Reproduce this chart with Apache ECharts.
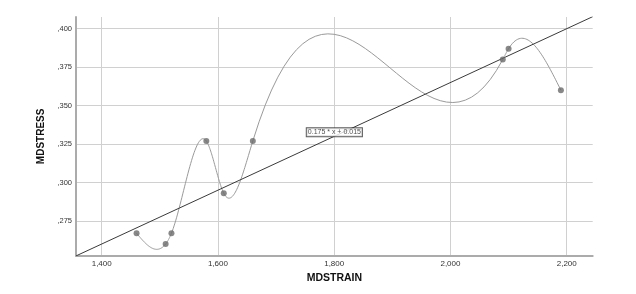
<!DOCTYPE html>
<html>
<head>
<meta charset="utf-8">
<script src="https://cdn.jsdelivr.net/npm/echarts@6/dist/echarts.min.js"></script>
<style>
html,body{margin:0;padding:0;background:#fff;}
#chart{width:636px;height:294px;}
</style>
</head>
<body>
<div id="chart"></div>
<script>
// ---- data ----
var strainValues = [1.46, 1.51, 1.52, 1.58, 1.61, 1.66, 2.09, 2.10, 2.19];
var stressValues = [0.267, 0.260, 0.267, 0.327, 0.293, 0.327, 0.380, 0.387, 0.360];
var fitSlope = 0.175;
var fitIntercept = 0.015;
var xRange = [1.3558, 2.2447];
var yRange = [0.2524, 0.4076];
var xStep = 0.2;
var yStep = 0.025;
var xTitle = 'MDSTRAIN';
var yTitle = 'MDSTRESS';

// ---- natural cubic spline coefficients from the data ----
function naturalSpline(xs, ys) {
  var n = xs.length, h = [], l = [1], mu = [0], z = [0], b = [], c = [], d = [];
  for (var i = 0; i < n - 1; i++) h[i] = xs[i + 1] - xs[i];
  for (i = 1; i < n - 1; i++) {
    var alpha = 3 / h[i] * (ys[i + 1] - ys[i]) - 3 / h[i - 1] * (ys[i] - ys[i - 1]);
    l[i] = 2 * (xs[i + 1] - xs[i - 1]) - h[i - 1] * mu[i - 1];
    mu[i] = h[i] / l[i];
    z[i] = (alpha - h[i - 1] * z[i - 1]) / l[i];
  }
  c[n - 1] = 0;
  for (var j = n - 2; j >= 0; j--) {
    c[j] = z[j] - mu[j] * c[j + 1];
    b[j] = (ys[j + 1] - ys[j]) / h[j] - h[j] * (c[j + 1] + 2 * c[j]) / 3;
    d[j] = (c[j + 1] - c[j]) / (3 * h[j]);
  }
  return {b: b, c: c, d: d};
}
var spl = naturalSpline(strainValues, stressValues);

var points = strainValues.map(function (x, i) { return [x, stressValues[i]]; });
var fitLine = xRange.map(function (x) { return [x, fitSlope * x + fitIntercept]; });
var midX = (xRange[0] + xRange[1]) / 2;
var fitLabel = [[midX, fitSlope * midX + fitIntercept]];

function fmt(v) {
  var s = v.toFixed(3);
  if (s.indexOf('0.') === 0) s = s.substring(1);
  return s.replace('.', ',');
}

var chart = echarts.init(document.getElementById('chart'), null, {renderer: 'canvas'});
var FONT = '"Liberation Sans", Arial, sans-serif';
chart.setOption({
  animation: false,
  backgroundColor: '#fff',
  grid: {left: 76, right: 43.3, top: 17, bottom: 38.3},
  xAxis: {
    type: 'value',
    min: xRange[0], max: xRange[1],
    minInterval: xStep, maxInterval: xStep,
    name: xTitle, nameLocation: 'middle', nameGap: 17,
    nameTextStyle: {fontFamily: FONT, fontWeight: 'bold', fontSize: 10.5, color: '#111'},
    axisLine: {show: true, lineStyle: {color: '#ababab', width: 2}},
    axisTick: {show: false},
    axisLabel: {fontFamily: FONT, fontSize: 8, color: '#333', margin: 4,
      showMinLabel: false, showMaxLabel: false, formatter: fmt},
    splitLine: {show: true, showMinLine: false, showMaxLine: false, lineStyle: {color: '#d0d0d0', width: 1}}
  },
  yAxis: {
    type: 'value',
    min: yRange[0], max: yRange[1],
    minInterval: yStep, maxInterval: yStep,
    name: yTitle, nameLocation: 'middle', nameGap: 26,
    nameTextStyle: {fontFamily: FONT, fontWeight: 'bold', fontSize: 10, color: '#111'},
    axisLine: {show: true, lineStyle: {color: '#ababab', width: 2}},
    axisTick: {show: false},
    axisLabel: {fontFamily: FONT, fontSize: 7.5, color: '#333', margin: 4,
      showMinLabel: false, showMaxLabel: false, formatter: fmt},
    splitLine: {show: true, showMinLine: false, showMaxLine: false, lineStyle: {color: '#d0d0d0', width: 1}}
  },
  series: [
    {
      type: 'custom',
      data: points,
      z: 2,
      renderItem: function (params, api) {
        var i = params.dataIndex;
        if (i >= strainValues.length - 1) return {type: 'group', children: []};
        var x0 = strainValues[i], x1 = strainValues[i + 1], y0 = stressValues[i];
        var pts = [];
        var N = 40;
        for (var k = 0; k <= N; k++) {
          var t = (x1 - x0) * k / N;
          var y = y0 + spl.b[i] * t + spl.c[i] * t * t + spl.d[i] * t * t * t;
          pts.push(api.coord([x0 + t, y]));
        }
        return {type: 'polyline', shape: {points: pts},
          style: {stroke: '#9a9a9a', lineWidth: 1, fill: null}};
      }
    },
    {
      type: 'line',
      data: fitLine,
      symbol: 'none',
      z: 3,
      lineStyle: {color: '#3a3a3a', width: 1}
    },
    {
      type: 'scatter',
      data: points,
      symbolSize: 6,
      z: 4,
      itemStyle: {color: '#6a6a6a'}
    },
    {
      type: 'scatter',
      data: fitLabel,
      symbolSize: 0,
      z: 5,
      label: {
        show: true, position: 'top', distance: 0,
        formatter: fitSlope + ' * x + ' + fitIntercept,
        fontFamily: FONT, fontSize: 7, color: '#222', lineHeight: 8,
        backgroundColor: '#fff', borderColor: '#333', borderWidth: 1, padding: [0, 1]
      }
    }
  ]
});
</script>
</body>
</html>
